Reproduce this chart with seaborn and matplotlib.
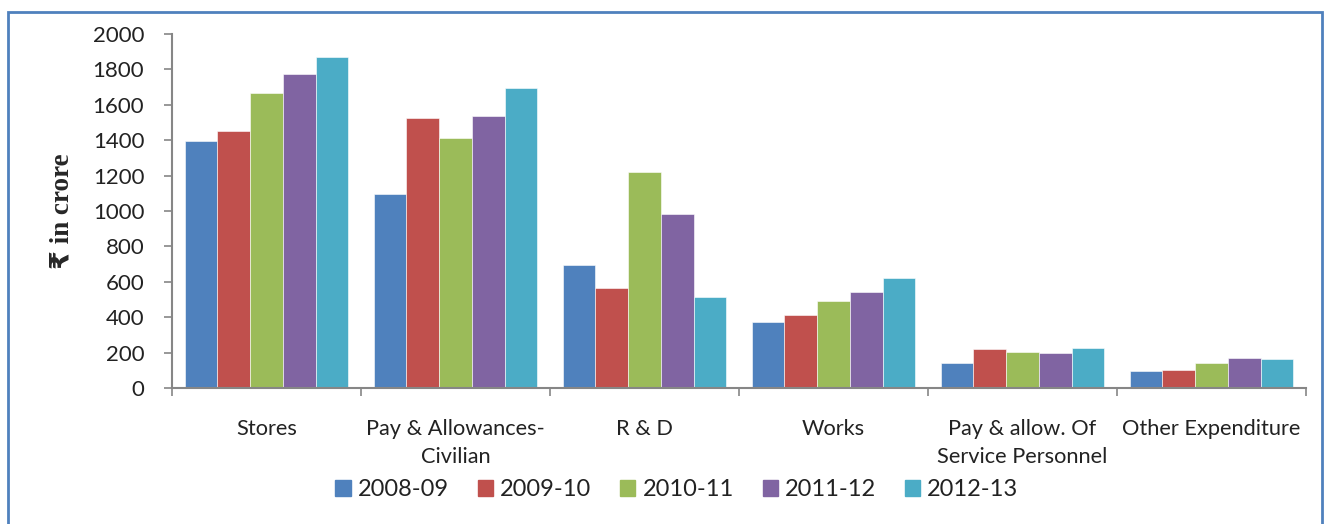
import pandas as pd
import matplotlib.pyplot as plt
import seaborn as sns
from matplotlib.patches import Rectangle

# Expenditure heads and yearly values (Rs in crore)
categories = ['Stores', 'Pay & Allowances-\nCivilian', 'R & D', 'Works',
              'Pay & allow. Of\nService Personnel', 'Other Expenditure']
years = ['2008-09', '2009-10', '2010-11', '2011-12', '2012-13']
v_2008 = [1395, 1096, 695, 373, 141, 98]
v_2009 = [1452, 1525, 563, 412, 220, 102]
v_2010 = [1665, 1411, 1219, 492, 203, 143]
v_2011 = [1774, 1535, 983, 542, 198, 168]
v_2012 = [1868, 1693, 516, 621, 226, 162]
colors = ['#4F81BD', '#C0504D', '#9BBB59', '#8064A2', '#4BACC6']

rows = []
for yr, vals in zip(years, [v_2008, v_2009, v_2010, v_2011, v_2012]):
    for cat, v in zip(categories, vals):
        rows.append({'Head': cat, 'Year': yr, 'Value': v})
df = pd.DataFrame(rows)

sns.set_style('white')
plt.rcParams['font.family'] = ['Lato', 'DejaVu Sans']
plt.rcParams['text.color'] = '#222222'
plt.rcParams['xtick.labelcolor'] = '#222222'
plt.rcParams['ytick.labelcolor'] = '#222222'

fig = plt.figure(figsize=(13.25, 5.24), dpi=100)
ax = fig.add_axes([0.1298, 0.2595, 0.8559, 0.6755])

sns.barplot(data=df, x='Head', y='Value', hue='Year', order=categories,
            hue_order=years, palette=colors, width=0.865, gap=0,
            edgecolor='white', linewidth=0.4, saturation=1, ax=ax)

ax.set_xlim(-0.5, len(categories) - 0.5)
ax.set_ylim(0, 2000)
ax.set_yticks(range(0, 2001, 200))
ax.tick_params(axis='y', labelsize=16, length=6, width=1.2, color='#868686',
               direction='out', left=True, pad=14)
ax.set_xticks([i - 0.5 for i in range(len(categories) + 1)], minor=True)
ax.tick_params(axis='x', which='minor', length=6, width=1.2, color='#868686',
               direction='out', bottom=True)
ax.tick_params(axis='x', which='major', length=0, labelsize=15.7, pad=22)
for lbl in ax.get_xticklabels():
    lbl.set_linespacing(1.55)
ax.set_xlabel('')
ax.set_ylabel('₹ in crore', fontsize=19.5, fontweight='bold',
              family=['Liberation Serif', 'DejaVu Sans'], labelpad=13)

for side in ['top', 'right']:
    ax.spines[side].set_visible(False)
for side in ['left', 'bottom']:
    ax.spines[side].set_color('#868686')
    ax.spines[side].set_linewidth(1.5)

ax.get_legend().remove()
handles = [Rectangle((0, 0), 1, 1, color=c) for c in colors]
fig.legend(handles, years, loc='center', bbox_to_anchor=(677 / 1325, 1 - 490 / 524),
           ncol=5, frameon=False, fontsize=17, handlelength=0.64, handleheight=0.64,
           handletextpad=0.3, columnspacing=1.23)

# blue frame around the chart
fig.patches.append(Rectangle((8 / 1325, -0.01), 1314 / 1325, 1 - 12 / 524 + 0.01,
                             transform=fig.transFigure, fill=False,
                             edgecolor='#4F81BD', linewidth=2))

plt.savefig('out.png', dpi=100)
